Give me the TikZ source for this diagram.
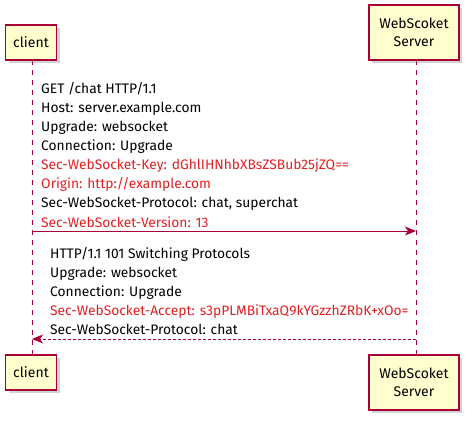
\documentclass[tikz,border=0pt]{standalone}
\usepackage{fontspec}
\setmainfont{Fira Sans}
\usetikzlibrary{arrows.meta,shadows}
\definecolor{umlred}{HTML}{A80036}
\definecolor{umlfill}{HTML}{FEFECE}
\definecolor{hdrred}{HTML}{E02020}
\tikzset{
  participant/.style={draw=umlred, fill=umlfill, line width=1.1pt, align=center,
    font=\fontsize{14}{18}\selectfont, inner sep=0pt,
    drop shadow={shadow xshift=3pt, shadow yshift=-3pt, opacity=0.35}},
  lifeline/.style={umlred, line width=0.8pt, dash pattern=on 5pt off 5pt},
  msg/.style={umlred, line width=0.9pt, -{Stealth[length=11pt,width=9pt,inset=3pt]}},
  msgtext/.style={anchor=base west, align=left, inner sep=0pt,
    font=\fontsize{13.8}{19.1}\selectfont}
}
\begin{document}
\begin{tikzpicture}[x=1pt,y=-1pt]
  \useasboundingbox (0,0) rectangle (472,423);

  % Lifelines (drawn first, boxes go on top)
  \coordinate (clientTopEnd) at (32,60);
  \coordinate (clientBotEnd) at (32,355);
  \coordinate (serverTopEnd) at (416,60);
  \coordinate (serverBotEnd) at (416,355);
  \draw[lifeline] (clientTopEnd) -- (clientBotEnd);
  \draw[lifeline] (serverTopEnd) -- (serverBotEnd);

  % Participants
  \node[participant, minimum width=51pt, minimum height=35pt] (clientTop) at (31,42.5) {client};
  \node[participant, minimum width=90pt, minimum height=55pt] (serverTop) at (414,32.5) {WebScoket\\Server};
  \node[participant, minimum width=51pt, minimum height=35pt] (clientBot) at (31,372.5) {client};
  \node[participant, minimum width=90pt, minimum height=55pt] (serverBot) at (414,382.5) {WebScoket\\Server};

  % Handshake request: client -> server (node anchored at last baseline)
  \coordinate (reqFrom) at (32,231);
  \coordinate (reqTo) at (416,231);
  \draw[msg] (reqFrom) -- (reqTo);
  \node[msgtext] (reqText) at (41,227) {GET /chat HTTP/1.1\\
    Host: server.example.com\\
    Upgrade: websocket\\
    Connection: Upgrade\\
    \textcolor{hdrred}{Sec-WebSocket-Key: dGhlIHNhbXBsZSBub25jZQ==}\\
    \textcolor{hdrred}{Origin: http://example.com}\\
    Sec-WebSocket-Protocol: chat, superchat\\
    \textcolor{hdrred}{Sec-WebSocket-Version: 13}};

  % Handshake response: server -> client
  \coordinate (resFrom) at (416,339);
  \coordinate (resTo) at (32,339);
  \draw[msg, dash pattern=on 3pt off 2pt] (resFrom) -- (resTo);
  \node[msgtext, font=\fontsize{13.8}{19}\selectfont] (resText) at (50,334) {HTTP/1.1 101 Switching Protocols\\
    Upgrade: websocket\\
    Connection: Upgrade\\
    \textcolor{hdrred}{Sec-WebSocket-Accept: s3pPLMBiTxaQ9kYGzzhZRbK+xOo=}\\
    Sec-WebSocket-Protocol: chat};
\end{tikzpicture}
\end{document}
